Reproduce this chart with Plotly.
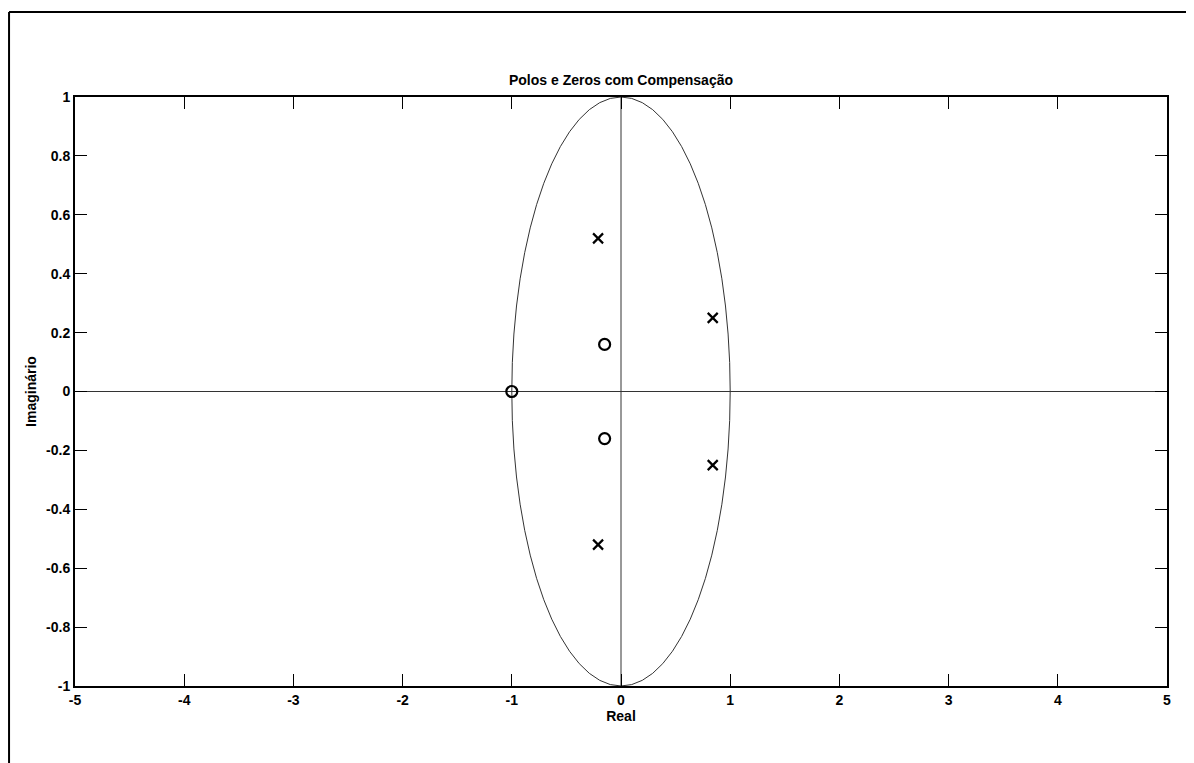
import plotly.graph_objects as go

# Poles (x) and zeros (o) of the compensated system
pole_re = [-0.21, -0.21, 0.84, 0.84]
pole_im = [0.52, -0.52, 0.25, -0.25]
zero_re = [-1.0, -0.15, -0.15]
zero_im = [0.0, 0.16, -0.16]

x_ticks = [-5, -4, -3, -2, -1, 0, 1, 2, 3, 4, 5]
y_ticks = [-1, -0.8, -0.6, -0.4, -0.2, 0, 0.2, 0.4, 0.6, 0.8, 1]

FONT = 'Liberation Sans, Arial'

fig = go.Figure()

# Poles
fig.add_trace(go.Scatter(
    x=pole_re, y=pole_im, mode='markers',
    marker=dict(symbol='x-thin', size=10, line=dict(color='black', width=2.2)),
    showlegend=False
))

# Zeros
fig.add_trace(go.Scatter(
    x=zero_re, y=zero_im, mode='markers',
    marker=dict(symbol='circle-open', size=11, color='black', line=dict(color='black', width=2.2)),
    showlegend=False
))

# Unit circle and the real / imaginary axes
fig.add_shape(type='circle', xref='x', yref='y', x0=-1, y0=-1, x1=1, y1=1,
              line=dict(color='#333333', width=1), layer='below')
fig.add_shape(type='line', xref='paper', yref='y', x0=0, x1=1, y0=0, y1=0,
              line=dict(color='#333333', width=1), layer='below')
fig.add_shape(type='line', xref='x', yref='paper', x0=0, x1=0, y0=0, y1=1,
              line=dict(color='#333333', width=1), layer='below')

# Figure border (left and top edges)
fig.add_shape(type='line', xref='paper', yref='paper', x0=-0.0604, x1=-0.0604, y0=-0.2, y1=1.1443,
              line=dict(color='black', width=2))
fig.add_shape(type='line', xref='paper', yref='paper', x0=-0.0604, x1=1.2, y0=1.1443, y1=1.1443,
              line=dict(color='black', width=2))

axis_common = dict(
    showgrid=False, zeroline=False, showline=True, linecolor='black', linewidth=2,
    mirror='ticks', ticks='inside', ticklen=12, tickcolor='black', tickwidth=1,
    tickfont=dict(family=FONT, size=14, color='black', weight='bold'),
)

# page body has an 8px margin, so the figure is 8px smaller than the window
fig.update_layout(
    width=1186, height=755,
    margin=dict(l=67, r=27, t=89, b=77),
    plot_bgcolor='white', paper_bgcolor='white',
    title=dict(text='Polos e Zeros com Compensação', x=0.5, xref='paper', y=0.905, yanchor='middle',
               font=dict(family=FONT, size=14, color='black', weight='bold')),
    xaxis=dict(range=[-5, 5], tickvals=x_ticks, ticktext=[str(v) for v in x_ticks],
               title=dict(text='Real', standoff=3,
                          font=dict(family=FONT, size=14, color='black', weight='bold')),
               **axis_common),
    yaxis=dict(range=[-1, 1], tickvals=y_ticks, ticktext=[f'{v:g}' for v in y_ticks],
               title=dict(text='Imaginário', standoff=6,
                          font=dict(family=FONT, size=14, color='black', weight='bold')),
               **axis_common),
)

fig.write_html("out.html")
